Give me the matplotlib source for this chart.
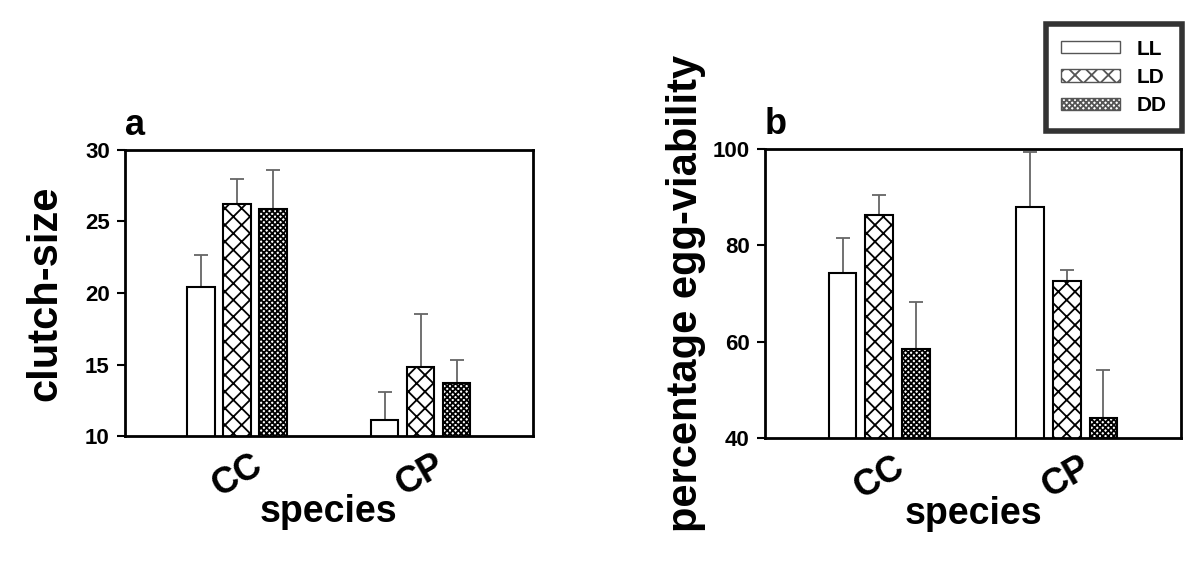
import matplotlib
matplotlib.use("Agg")
import matplotlib.pyplot as plt
from matplotlib.patches import Patch
import numpy as np

plt.rcParams['font.family'] = ['Liberation Sans', 'DejaVu Sans']
plt.rcParams['font.weight'] = 'bold'
plt.rcParams['hatch.linewidth'] = 1.3

species = ["CC", "CP"]
conditions = ["LL", "LD", "DD"]

clutch_mean = {"LL": [20.4, 11.1], "LD": [26.2, 14.8], "DD": [25.85, 13.7]}
clutch_err = {"LL": [2.25, 1.95], "LD": [1.8, 3.75], "DD": [2.75, 1.6]}

viab_mean = {"LL": [74.3, 87.9], "LD": [86.4, 72.6], "DD": [58.5, 44.1]}
viab_err = {"LL": [7.2, 11.4], "LD": [4.1, 2.3], "DD": [9.7, 10.0]}

hatches = {"LL": "", "LD": "xx", "DD": "xxxxxx"}

fig = plt.figure(figsize=(12, 5.69), dpi=100)
axa = fig.add_axes([0.1042, 0.2337, 0.3398, 0.5027])
axb = fig.add_axes([0.6375, 0.2302, 0.3467, 0.5078])

width = 0.148
step = 0.196
x = np.arange(len(species))


def draw(ax, means, errs, ylim, yticks, ylabel, letter, lpad):
    for i, c in enumerate(conditions):
        pos = x + (i - 1) * step
        ax.bar(pos, means[c], width, color="white", edgecolor="black",
               linewidth=1.5, hatch=hatches[c], zorder=2)
        ax.errorbar(pos, means[c], yerr=[np.zeros(len(species)), errs[c]],
                    fmt="none", ecolor="#666666", elinewidth=1.3,
                    capsize=5, capthick=1.3, zorder=1)
    ax.set_xlim(-0.61, 1.61)
    ax.set_ylim(*ylim)
    ax.set_yticks(yticks)
    ax.set_xticks(x)
    ax.set_xticklabels(species, rotation=30, fontsize=26, fontweight="bold")
    ax.tick_params(axis="x", length=0, pad=8)
    ax.tick_params(axis="y", direction="out", length=6, width=1.5,
                   labelsize=16, pad=5)
    for s in ax.spines.values():
        s.set_linewidth(2.0)
    ax.set_ylabel(ylabel, fontsize=30, fontweight="bold", labelpad=lpad)
    ax.set_xlabel("species", fontsize=27, fontweight="bold", labelpad=-7)
    ax.text(0.0, 1.025, letter, transform=ax.transAxes, fontsize=26,
            fontweight="bold", ha="left", va="bottom")


draw(axa, clutch_mean, clutch_err, (10, 30), [10, 15, 20, 25, 30],
     "clutch-size", "a", 14)
draw(axb, viab_mean, viab_err, (40, 100), [40, 60, 80, 100],
     "percentage egg-viability", "b", 5)

handles = [Patch(facecolor="white", edgecolor="#555555", linewidth=1.0,
                 hatch=hatches[c], label=c) for c in conditions]
leg = fig.legend(handles=handles, loc="upper right",
                 bbox_to_anchor=(0.985, 0.958), borderaxespad=0,
                 frameon=True, fancybox=False,
                 edgecolor="black", prop={"size": 15, "weight": "bold"},
                 handlelength=2.8, handleheight=0.55, labelspacing=0.45,
                 borderpad=0.75, handletextpad=0.8)
leg.get_frame().set_linewidth(4)

fig.savefig("out.png", dpi=100)
